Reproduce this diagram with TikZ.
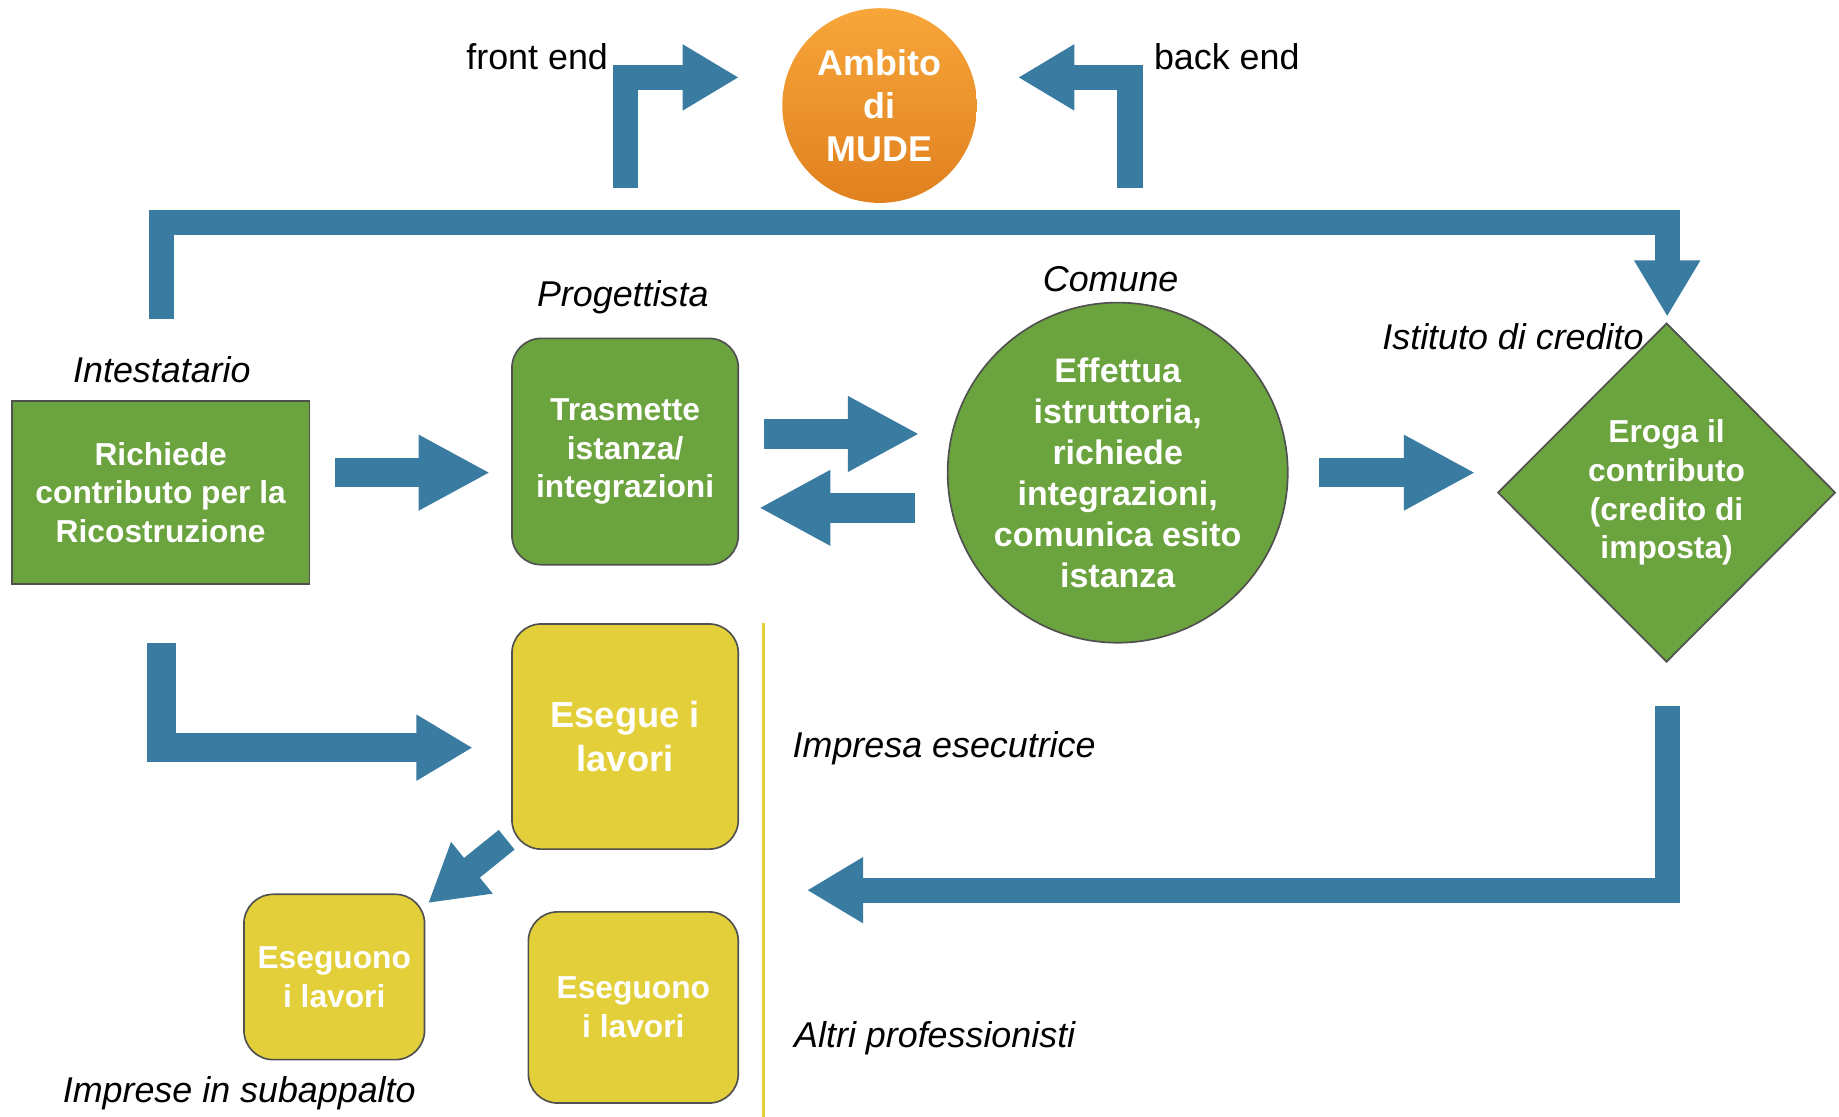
\documentclass[tikz,border=0pt]{standalone}
\usepackage{fontspec}
\setmainfont{Liberation Sans}
\usetikzlibrary{arrows.meta, shapes.geometric}
\definecolor{arrowblue}{RGB}{58,123,162}
\definecolor{grass}{RGB}{107,163,62}
\definecolor{straw}{RGB}{227,207,58}
\definecolor{rim}{RGB}{80,80,80}
\definecolor{orangetop}{RGB}{247,166,58}
\definecolor{orangebot}{RGB}{224,128,31}
\tikzset{
	lbl/.style={font=\fontsize{17.4}{21}\selectfont\itshape, inner sep=0pt}, % role labels
	plain/.style={font=\fontsize{17.4}{21}\selectfont, inner sep=0pt}, % front end / back end
	stepbox/.style={draw=rim, thick, fill=grass, text=white, align=center, inner sep=0pt,
		font=\bfseries\fontsize{15.4}{18.8}\selectfont}, % green boxes
	workbox/.style={stepbox, fill=straw, rounded corners=5mm}, % yellow boxes
	barrow/.style={draw=arrowblue, line width=5mm, -{Triangle[length=12.2mm,width=12mm]}}, % straight block arrows
	larrow/.style={draw=arrowblue, line width=4.3mm, line join=miter, -{Triangle[length=9.6mm,width=10.6mm]}}, % bent arrows
}

\begin{document}
\begin{tikzpicture}[x=0.2mm, y=-0.2mm]
	\useasboundingbox (0,0) rectangle (1568,952);
	
	% MUDE
	\node[circle, minimum size=33.2mm, inner sep=0pt, top color=orangetop, bottom color=orangebot,
		text=white, align=center, font=\bfseries\fontsize{17.4}{21}\selectfont] (mude) at (750,90) {Ambito\\di\\MUDE};
	\node[plain] (front) at (458,48) {front end};
	\node[plain] (back) at (1046,48) {back end};
	
	% green row
	\node[lbl] (intlbl) at (138,315) {Intestatario};
	\node[stepbox, minimum width=50.8mm, minimum height=31.2mm] (richiede) at (137,420) {Richiede\\contributo per la\\Ricostruzione};
	\node[lbl] (proglbl) at (531,253) {Progettista};
	\node[stepbox, rounded corners=5mm, minimum width=38.6mm, minimum height=38.6mm] (trasmette) at (533,385) {Trasmette\\istanza/\\integrazioni};
	\node[lbl] (comlbl) at (947,238) {Comune};
	\node[stepbox, circle, minimum size=58mm, font=\bfseries\fontsize{16.5}{19.9}\selectfont] (effettua) at (953,403)
		{Effettua\\istruttoria,\\richiede\\integrazioni,\\comunica esito\\istanza};
	\node[lbl] (istlbl) at (1290,287) {Istituto di credito};
	\node[stepbox, diamond, minimum width=57.6mm, minimum height=57.8mm] (eroga) at (1421,420) {Eroga il\\contributo\\(credito di\\imposta)};
	
	% yellow part
	\draw[straw, line width=0.6mm] (651,531) coordinate (sep1) -- (651,952) coordinate (sep2);
	\node[workbox, minimum width=38.6mm, minimum height=38.4mm, font=\bfseries\fontsize{17.6}{21.2}\selectfont] (esegue) at (533,628) {Esegue i\\lavori};
	\node[lbl] (implbl) at (805,638) {Impresa esecutrice};
	\node[workbox, minimum width=30.8mm, minimum height=28.2mm] (subapp) at (285,833) {Eseguono\\i lavori};
	\node[lbl] (sublbl) at (204,932) {Imprese in subappalto};
	\node[workbox, minimum width=35.8mm, minimum height=32.6mm] (eseguono) at (540,859) {Eseguono\\i lavori};
	\node[lbl] (altlbl) at (797,885) {Altri professionisti};
	
	% arrow ends
	\coordinate (a1s) at (286,403); \coordinate (a1e) at (418,403);
	\coordinate (a2s) at (651,370); \coordinate (a2e) at (784,370);
	\coordinate (a3s) at (780,433); \coordinate (a3e) at (647,433);
	\coordinate (a4s) at (1125,403); \coordinate (a4e) at (1258,403);
	\coordinate (fes) at (533.5,160); \coordinate (fee) at (630,66);
	\coordinate (bes) at (963.5,160); \coordinate (bee) at (868,66);
	\coordinate (tops) at (137.5,272); \coordinate (tope) at (1421.5,270);
	\coordinate (bls) at (137.5,548); \coordinate (ble) at (403,637.5);
	\coordinate (brs) at (1421.5,602); \coordinate (bre) at (688,759);
	\coordinate (dgs) at (432,716); \coordinate (dge) at (365,770);
	
	% arrows
	\draw[barrow] (a1s) -- (a1e);
	\draw[barrow] (a2s) -- (a2e);
	\draw[barrow] (a3s) -- (a3e);
	\draw[barrow] (a4s) -- (a4e);
	\draw[larrow] (fes) |- (fee);
	\draw[larrow] (bes) |- (bee);
	\draw[larrow] (tops) -- (tops|-0,190) -- (tope|-0,190) -- (tope);
	\draw[larrow, line width=5mm] (bls) |- (ble);
	\draw[larrow] (brs) |- (bre);
	\draw[larrow] (dgs) -- (dge);
	
\end{tikzpicture}
\end{document}
